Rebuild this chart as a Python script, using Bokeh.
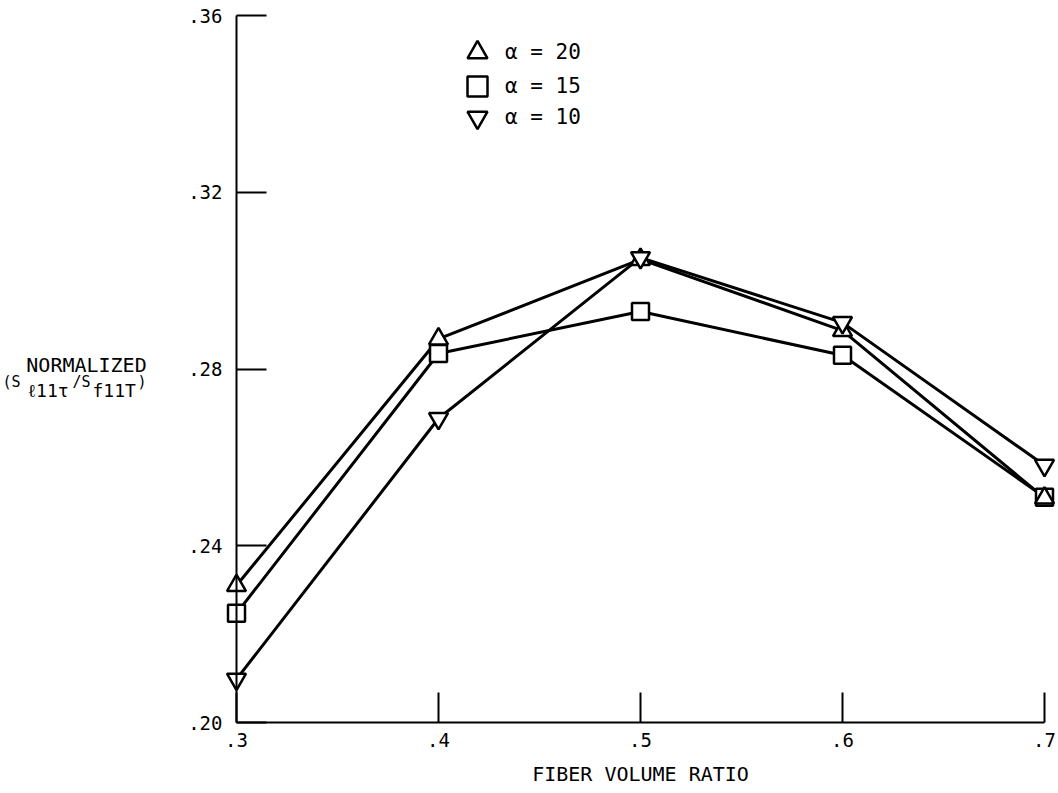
from bokeh.plotting import figure
from bokeh.models import Legend, LegendItem, Label, FixedTicker, Range1d
from bokeh.embed import file_html
from bokeh.resources import INLINE

# ---- data ----
fiber_volume_ratio = [0.3, 0.4, 0.5, 0.6, 0.7]
alpha_20 = [0.2310, 0.2868, 0.3048, 0.2887, 0.2508]
alpha_15 = [0.2247, 0.2835, 0.2930, 0.2831, 0.2510]
alpha_10 = [0.2098, 0.2688, 0.3052, 0.2905, 0.2582]
series_labels = ["α = 20", "α = 15", "α = 10"]
x_ticks = [0.3, 0.4, 0.5, 0.6, 0.7]
x_tick_labels = [".3", ".4", ".5", ".6", ".7"]
y_ticks = [0.20, 0.24, 0.28, 0.32, 0.36]
y_tick_labels = [".20", ".24", ".28", ".32", ".36"]

MONO = "DejaVu Sans Mono"

# ---- layout (pixels) ----
W, H = 1056, 791
AX_LEFT, AX_RIGHT = 236, 1044      # pixel of x=.3 and x=.7
AX_TOP, AX_BOTTOM = 15, 722        # pixel of y=.36 and y=.20
x0, x1 = x_ticks[0], x_ticks[-1]
y0, y1 = y_ticks[0], y_ticks[-1]
xs = (AX_RIGHT - AX_LEFT) / (x1 - x0)
ys = (AX_BOTTOM - AX_TOP) / (y1 - y0)

# the frame fills the whole canvas; axes are drawn at fixed data locations
p = figure(width=W, height=H, output_backend="svg", toolbar_location=None,
           x_range=Range1d(x0 - AX_LEFT / xs, x1 + (W - AX_RIGHT) / xs),
           y_range=Range1d(y0 - (H - AX_BOTTOM) / ys, y1 + AX_TOP / ys),
           min_border=0, min_border_left=0, min_border_right=0,
           min_border_top=0, min_border_bottom=0)
p.outline_line_color = None
p.xgrid.visible = False
p.ygrid.visible = False
p.background_fill_color = "white"
p.border_fill_color = "white"

for ax in (p.xaxis[0], p.yaxis[0]):
    ax.axis_line_width = 2
    ax.axis_line_color = "black"
    ax.major_tick_line_width = 2
    ax.major_tick_line_color = "black"
    ax.major_tick_in = 30
    ax.major_tick_out = 0
    ax.minor_tick_line_color = None
    ax.major_label_text_font = MONO
    ax.major_label_text_font_size = "19px"
    ax.major_label_text_color = "black"

p.xaxis.ticker = FixedTicker(ticks=x_ticks)
p.xaxis.major_label_overrides = dict(zip(x_ticks, x_tick_labels))
p.xaxis.major_label_standoff = 10
p.xaxis.fixed_location = y0
p.xaxis.bounds = (x0, x1)

p.yaxis.ticker = FixedTicker(ticks=y_ticks)
p.yaxis.major_label_overrides = dict(zip(y_ticks, y_tick_labels))
p.yaxis.major_label_standoff = 14
p.yaxis.fixed_location = x0
p.yaxis.bounds = (y0, y1)

# ---- lines ----
for yv in (alpha_20, alpha_15, alpha_10):
    p.line(fiber_volume_ratio, yv, line_color="black", line_width=3)

# ---- markers ----
r15 = p.scatter(fiber_volume_ratio, alpha_15, marker="square", size=17,
                fill_color="white", line_color="black", line_width=2.5)
r20 = p.scatter(fiber_volume_ratio, alpha_20, marker="triangle", size=19,
                fill_color="white", line_color="black", line_width=2.5)
r10 = p.scatter(fiber_volume_ratio, alpha_10, marker="inverted_triangle", size=19,
                fill_color="white", line_color="black", line_width=2.5)

# ---- legend: one single-row legend per entry ----
legend_rows_y = [52, 86, 117]      # pixel centres of rows (from top)
legend_marker_x = 477
for lab, rend, yc in zip(series_labels, [r20, r15, r10], legend_rows_y):
    lg = Legend(items=[LegendItem(label=lab, renderers=[rend])],
                location=(legend_marker_x - 25, H - (yc + 25)),
                glyph_width=50, glyph_height=50, spacing=0, padding=0, margin=0,
                label_standoff=3, border_line_color=None, background_fill_alpha=0,
                label_text_font=MONO, label_text_font_size="21px",
                label_text_color="black", label_text_baseline="middle")
    p.add_layout(lg)

# ---- x axis title ----
p.add_layout(Label(x=640, y=H - 773, x_units="screen", y_units="screen",
                   text="FIBER VOLUME RATIO", text_font=MONO, text_font_size="20px",
                   text_align="center", text_baseline="middle", text_color="black"))

# ---- y axis title (composed) ----
p.add_layout(Label(x=86, y=H - 364, x_units="screen", y_units="screen",
                   text="NORMALIZED", text_font=MONO, text_font_size="20px",
                   text_align="center", text_baseline="middle", text_color="black"))
parts = [("(S", 2, 381, "15px"), ("ℓ11τ", 27, 390, "18px"),
         ("/S", 72, 381, "15px"), ("f11T", 92, 390, "18px"),
         (")", 137, 381, "15px")]
for txt, sx, sy, fs in parts:
    p.add_layout(Label(x=sx, y=H - sy, x_units="screen", y_units="screen",
                       text=txt, text_font=MONO, text_font_size=fs,
                       text_align="left", text_baseline="middle", text_color="black"))

open("out.html", "w").write(file_html(p, INLINE))
